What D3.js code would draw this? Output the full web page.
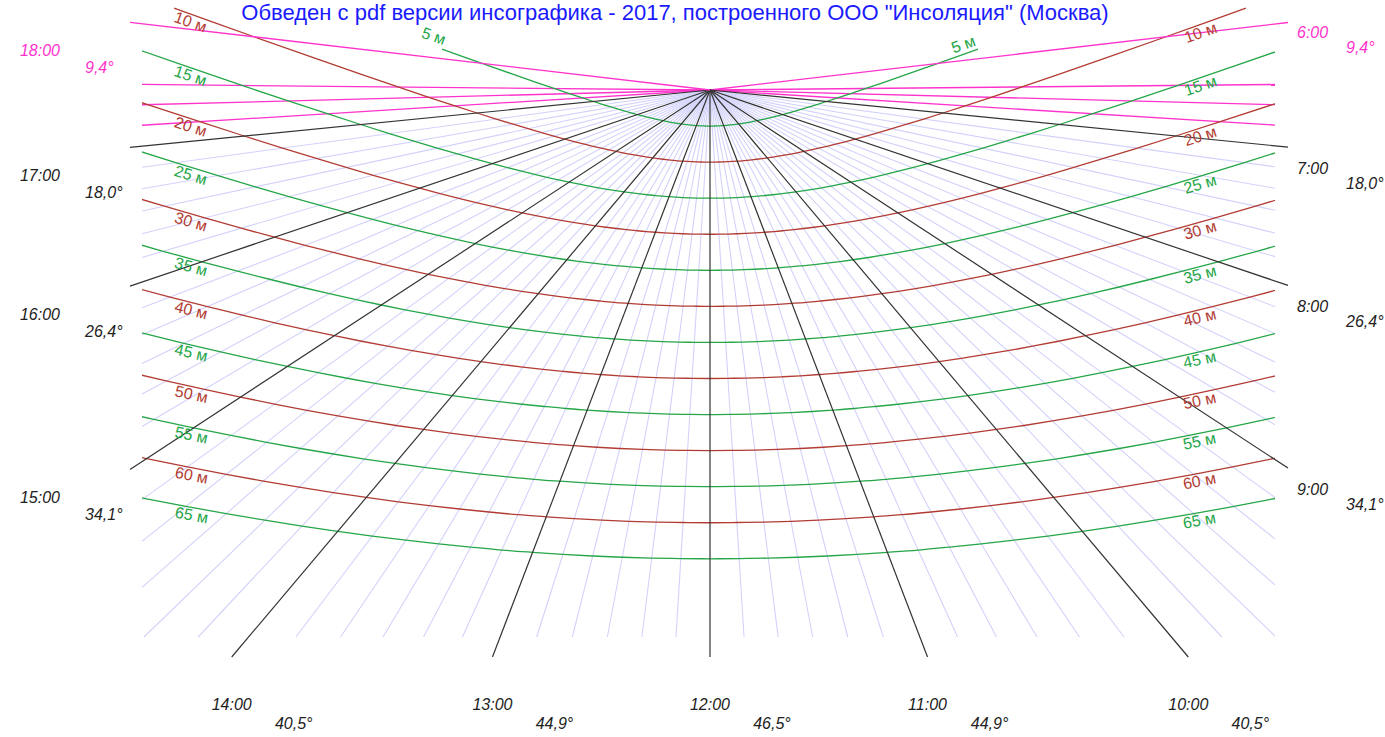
<!DOCTYPE html>
<html>
<head>
<meta charset="utf-8">
<script src="https://cdn.jsdelivr.net/npm/d3@7"></script>
<style>
  body { margin: 0; background: #fff; }
  svg { display: block; font-family: "Liberation Sans", Arial, sans-serif; }
</style>
</head>
<body>
<div id="chart"></div>
<script>
const title = 'Обведен с pdf версии инсографика - 2017, построенного ООО "Инсоляция" (Москва)';

// sun every 10 minutes, 5:50 .. 18:10
const sunTimes = [
    '5:50', '6:00', '6:10', '6:20', '6:30', '6:40', '6:50',
    '7:00', '7:10', '7:20', '7:30', '7:40', '7:50',
    '8:00', '8:10', '8:20', '8:30', '8:40', '8:50',
    '9:00', '9:10', '9:20', '9:30', '9:40', '9:50',
    '10:00', '10:10', '10:20', '10:30', '10:40', '10:50',
    '11:00', '11:10', '11:20', '11:30', '11:40', '11:50',
    '12:00', '12:10', '12:20', '12:30', '12:40', '12:50',
    '13:00', '13:10', '13:20', '13:30', '13:40', '13:50',
    '14:00', '14:10', '14:20', '14:30', '14:40', '14:50',
    '15:00', '15:10', '15:20', '15:30', '15:40', '15:50',
    '16:00', '16:10', '16:20', '16:30', '16:40', '16:50',
    '17:00', '17:10', '17:20', '17:30', '17:40', '17:50',
    '18:00', '18:10'
]

// azimuth from south, degrees (- east / morning, + west / afternoon)
const sunAzimuth = [
    -98.68, -96.66, -94.63, -92.60, -90.56, -88.51, -86.45,
    -84.36, -82.26, -80.13, -77.98, -75.79, -73.57,
    -71.32, -69.02, -66.68, -64.29, -61.85, -59.36,
    -56.81, -54.20, -51.53, -48.79, -45.98, -43.10,
    -40.15, -37.13, -34.04, -30.87, -27.64, -24.35,
    -20.99, -17.58, -14.13, -10.63, -7.10, -3.56,
    0, 3.56, 7.10, 10.63, 14.13, 17.58,
    20.99, 24.35, 27.64, 30.87, 34.04, 37.13,
    40.15, 43.10, 45.98, 48.79, 51.53, 54.20,
    56.81, 59.36, 61.85, 64.29, 66.68, 69.02,
    71.32, 73.57, 75.79, 77.98, 80.13, 82.26,
    84.36, 86.45, 88.51, 90.56, 92.60, 94.63,
    96.66, 98.68
]

// sun altitude, degrees
const sunAltitude = [
    7.98, 9.40, 10.83, 12.26, 13.69, 15.12, 16.56,
    17.99, 19.41, 20.83, 22.23, 23.63, 25.01,
    26.38, 27.73, 29.06, 30.36, 31.64, 32.89,
    34.11, 35.29, 36.43, 37.53, 38.59, 39.59,
    40.55, 41.44, 42.28, 43.05, 43.75, 44.37,
    44.93, 45.40, 45.79, 46.10, 46.32, 46.46,
    46.50, 46.46, 46.32, 46.10, 45.79, 45.40,
    44.93, 44.37, 43.75, 43.05, 42.28, 41.44,
    40.55, 39.59, 38.59, 37.53, 36.43, 35.29,
    34.11, 32.89, 31.64, 30.36, 29.06, 27.73,
    26.38, 25.01, 23.63, 22.23, 20.83, 19.41,
    17.99, 16.56, 15.12, 13.69, 12.26, 10.83,
    9.40, 7.98
]

const heights = [5, 10, 15, 20, 25, 30, 35, 40, 45, 50, 55, 60, 65];

const hourLabels = ['6:00', '7:00', '8:00', '9:00', '10:00', '11:00', '12:00',
    '13:00', '14:00', '15:00', '16:00', '17:00', '18:00'];
const altLabels = ['9,4°', '18,0°', '26,4°', '34,1°', '40,5°', '44,9°', '46,5°',
    '44,9°', '40,5°', '34,1°', '26,4°', '18,0°', '9,4°'];
const edgeHours = ['6:00', '18:00'];
const magentaTimes = ['6:30', '6:40', '6:50', '17:10', '17:20', '17:30'];

const colors = {
    green: '#25a648',
    red: '#b23c33',
    hour: '#333',
    minor: '#d2d2fb',
    magenta: '#ff33cc',
    title: '#1a1aff',
    text: '#222'
}

const width = 1385, height = 737;
const cx = 710, cy = 90;
const plotBox = {left: 142, right: 1275, top: 0, bottom: 637};
const hourBox = {left: 130, right: 1288, top: 0, bottom: 657};

// metres on the ground -> pixels
const x = d3.scaleLinear().domain([-75, 75]).range([cx - 570, cx + 570]);
const y = d3.scaleLinear().domain([0, 75]).range([cy, cy + 570]);

const rad = d => d * Math.PI / 180;
const sun = sunTimes.map((t, i) => ({
    time: t,
    east: -Math.sin(rad(sunAzimuth[i])),
    south: Math.cos(rad(sunAzimuth[i])),
    cot: 1 / Math.tan(rad(sunAltitude[i]))
}))
const byTime = new Map(sun.map(s => [s.time, s]));

const rayEnd = (s, box) => {
    const dx = x(s.east) - x(0), dy = y(s.south) - y(0);
    let t = Infinity, side = null;
    const test = (v, name) => { if (v > 0 && v < t) { t = v; side = name; } };
    if (dx < 0) test((box.left - cx) / dx, 'left');
    if (dx > 0) test((box.right - cx) / dx, 'right');
    if (dy > 0) test((box.bottom - cy) / dy, 'bottom');
    if (dy < 0) test((box.top - cy) / dy, 'top');
    return {x: cx + dx * t, y: cy + dy * t, side};
}

const svg = d3.select('#chart').append('svg')
    .attr('width', width)
    .attr('height', height);

svg.append('clipPath').attr('id', 'plot-clip')
    .append('rect')
    .attr('x', plotBox.left).attr('y', plotBox.top)
    .attr('width', plotBox.right - plotBox.left)
    .attr('height', plotBox.bottom - plotBox.top);

// 10 minute rays
const isHour = t => t.endsWith(':00');
const minutes = t => { const [h, m] = t.split(':').map(Number); return h * 60 + m; }
const minorRays = sun.filter(s => !isHour(s.time) && minutes(s.time) > 420 && minutes(s.time) < 1020);

svg.append('g')
    .selectAll('line')
    .data(minorRays)
    .join('line')
    .attr('x1', cx).attr('y1', cy)
    .attr('x2', d => rayEnd(d, plotBox).x)
    .attr('y2', d => rayEnd(d, plotBox).y)
    .attr('stroke', colors.minor)
    .attr('stroke-width', 1.1);

svg.append('g')
    .selectAll('line')
    .data(magentaTimes.map(t => byTime.get(t)))
    .join('line')
    .attr('x1', cx).attr('y1', cy)
    .attr('x2', d => rayEnd(d, plotBox).x)
    .attr('y2', d => rayEnd(d, plotBox).y)
    .attr('stroke', colors.magenta)
    .attr('stroke-width', 1.3);

// height curves
const curvePoints = h => sun.map(s => [x(s.east * h * s.cot), y(s.south * h * s.cot)]);
const line = d3.line().curve(d3.curveCatmullRom.alpha(0.5));
const curveColor = h => h % 10 === 5 ? colors.green : colors.red;

svg.append('g')
    .attr('clip-path', 'url(#plot-clip)')
    .selectAll('path')
    .data(heights)
    .join('path')
    .attr('fill', 'none')
    .attr('stroke', d => curveColor(d))
    .attr('stroke-width', 1.3)
    .attr('d', d => line(curvePoints(d)));

// hour rays
const hours = hourLabels.map(t => byTime.get(t));
svg.append('g')
    .selectAll('line')
    .data(hours)
    .join('line')
    .attr('x1', cx).attr('y1', cy)
    .attr('x2', d => rayEnd(d, hourBox).x)
    .attr('y2', d => rayEnd(d, hourBox).y)
    .attr('stroke', d => edgeHours.includes(d.time) ? colors.magenta : colors.hour)
    .attr('stroke-width', d => edgeHours.includes(d.time) ? 1.3 : 1.2);

// hour labels
const hourG = svg.append('g')
    .attr('font-size', 16)
    .attr('font-style', 'italic');

hours.forEach((s, i) => {
    const end = rayEnd(s, hourBox);
    const edge = edgeHours.includes(s.time);
    const fill = edge ? colors.magenta : colors.text;
    let hx, hy, ax, ay, hAnchor = 'middle', aAnchor = 'middle';
    if (end.side === 'left') {
        hx = 40; hy = end.y + 28; ax = 85; ay = end.y + 45; aAnchor = 'start';
    } else if (end.side === 'right') {
        hx = 1297; hy = end.y + (edge ? 10 : 21); ax = 1346; ay = hy + 15; hAnchor = 'start'; aAnchor = 'start';
    } else {
        hx = end.x; hy = 704; ax = end.x + 62; ay = 723;
    }
    hourG.append('text')
        .attr('x', hx).attr('y', hy).attr('dy', '0.35em')
        .attr('text-anchor', hAnchor)
        .attr('fill', fill)
        .text(hourLabels[i]);
    hourG.append('text')
        .attr('x', ax).attr('y', ay).attr('dy', '0.35em')
        .attr('text-anchor', aAnchor)
        .attr('fill', fill)
        .text(altLabels[i]);
})

// curve labels
const crossAt = (pts, xt) => {
    for (let i = 0; i < pts.length - 1; i++) {
        const a = pts[i], b = pts[i + 1];
        if ((a[0] - xt) * (b[0] - xt) <= 0 && a[0] !== b[0]) {
            const f = (xt - a[0]) / (b[0] - a[0]);
            const p = [xt, a[1] + f * (b[1] - a[1])];
            const l = a[0] < b[0] ? [a, b] : [b, a];
            const ang = Math.atan2(l[1][1] - l[0][1], l[1][0] - l[0][0]) * 180 / Math.PI;
            return {p, ang};
        }
    }
    return null;
}

const labelG = svg.append('g').attr('font-size', 16);

heights.forEach(h => {
    const pts = curvePoints(h);
    const fill = curveColor(h);
    if (h === heights[0]) {
        const n = pts.length;
        const ends = [
            {p: pts[n - 1], q: pts[n - 2]},
            {p: pts[0], q: pts[1]}
        ];
        ends.forEach(e => {
            const l = e.p[0] < e.q[0] ? [e.p, e.q] : [e.q, e.p];
            const ang = Math.atan2(l[1][1] - l[0][1], l[1][0] - l[0][0]) * 180 / Math.PI;
            labelG.append('text')
                .attr('transform', `translate(${e.p[0]},${e.p[1]}) rotate(${ang})`)
                .attr('dy', -4)
                .attr('text-anchor', 'end')
                .attr('fill', fill)
                .text(`${h} м`);
        })
        return;
    }
    [193, 1198].forEach(xt => {
        const c = crossAt(pts, xt);
        if (!c) return;
        labelG.append('text')
            .attr('transform', `translate(${c.p[0]},${c.p[1]}) rotate(${c.ang})`)
            .attr('dy', 13)
            .attr('text-anchor', 'middle')
            .attr('fill', fill)
            .text(`${h} м`);
    })
})

svg.append('text')
    .attr('x', 675)
    .attr('y', 20)
    .attr('text-anchor', 'middle')
    .attr('font-size', 22)
    .attr('fill', colors.title)
    .text(title);
</script>
</body>
</html>
